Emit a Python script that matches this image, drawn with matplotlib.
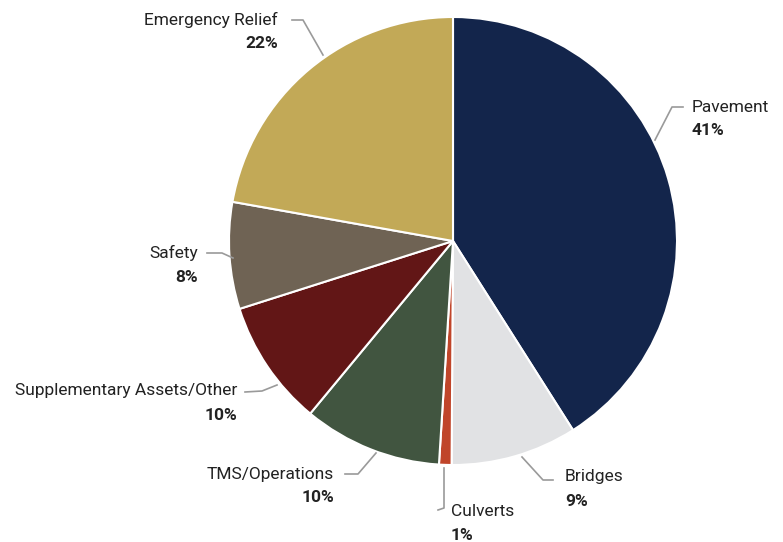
import matplotlib
matplotlib.use("Agg")
import matplotlib.pyplot as plt
from matplotlib.lines import Line2D

plt.rcParams['font.family'] = ['Roboto', 'DejaVu Sans']

categories = ["Pavement", "Bridges", "Culverts", "TMS/Operations",
              "Supplementary Assets/Other", "Safety", "Emergency Relief"]
shares = [41.0, 9.1, 0.9, 10.0, 9.1, 7.7, 22.2]
pct_labels = ["41%", "9%", "1%", "10%", "10%", "8%", "22%"]
colors = ["#13254b", "#e1e2e4", "#c0452a", "#415540", "#621616", "#6f6354", "#c2a957"]

W, H = 783, 542
fig = plt.figure(figsize=(W / 100, H / 100), dpi=100)

# pie placed in pixel space: center (453, 241), radius 224
cx, cy, r = 453, 241, 224
ax = fig.add_axes([(cx - r) / W, (H - cy - r) / H, 2 * r / W, 2 * r / H])
ax.pie(shares, colors=colors, startangle=90, counterclock=False, radius=1,
       wedgeprops=dict(edgecolor="white", linewidth=1.5))
ax.set_xlim(-1, 1)
ax.set_ylim(-1, 1)
ax.set_aspect("equal")
ax.axis("off")


def fx(px):
    return px / W


def fy(py):
    return 1 - py / H


# label placement (pixels): leader path, text anchor, alignment
label_layout = {
    "Pavement": ([(655, 140), (672, 107), (683, 107)], (692, 107), "left"),
    "Bridges": ([(522, 457), (543, 480), (553, 480)], (565, 477), "left"),
    "Culverts": ([(444, 468), (444, 508), (438, 510)], (451, 511), "left"),
    "TMS/Operations": ([(376, 453), (358, 474), (345, 474)], (334, 474), "right"),
    "Supplementary Assets/Other": ([(277, 385), (262, 391), (245, 392)], (237, 391), "right"),
    "Safety": ([(233, 258), (222, 253), (207, 253)], (198, 253), "right"),
    "Emergency Relief": ([(323, 55), (303, 20), (292, 20)], (278, 20), "right"),
}

for name, pct in zip(categories, pct_labels):
    path, (tx, ty), ha = label_layout[name]
    xs = [fx(p[0]) for p in path]
    ys = [fy(p[1]) for p in path]
    fig.add_artist(Line2D(xs, ys, color="#9a9a9a", linewidth=1.2,
                          transform=fig.transFigure))
    fig.text(fx(tx), fy(ty), name, ha=ha, va="center", fontsize=12.5, color="#222222")
    fig.text(fx(tx), fy(ty + 24), pct, ha=ha, va="center", fontsize=12.5,
             fontweight="bold", color="#222222")

fig.savefig("out.png", dpi=100, facecolor="white")
